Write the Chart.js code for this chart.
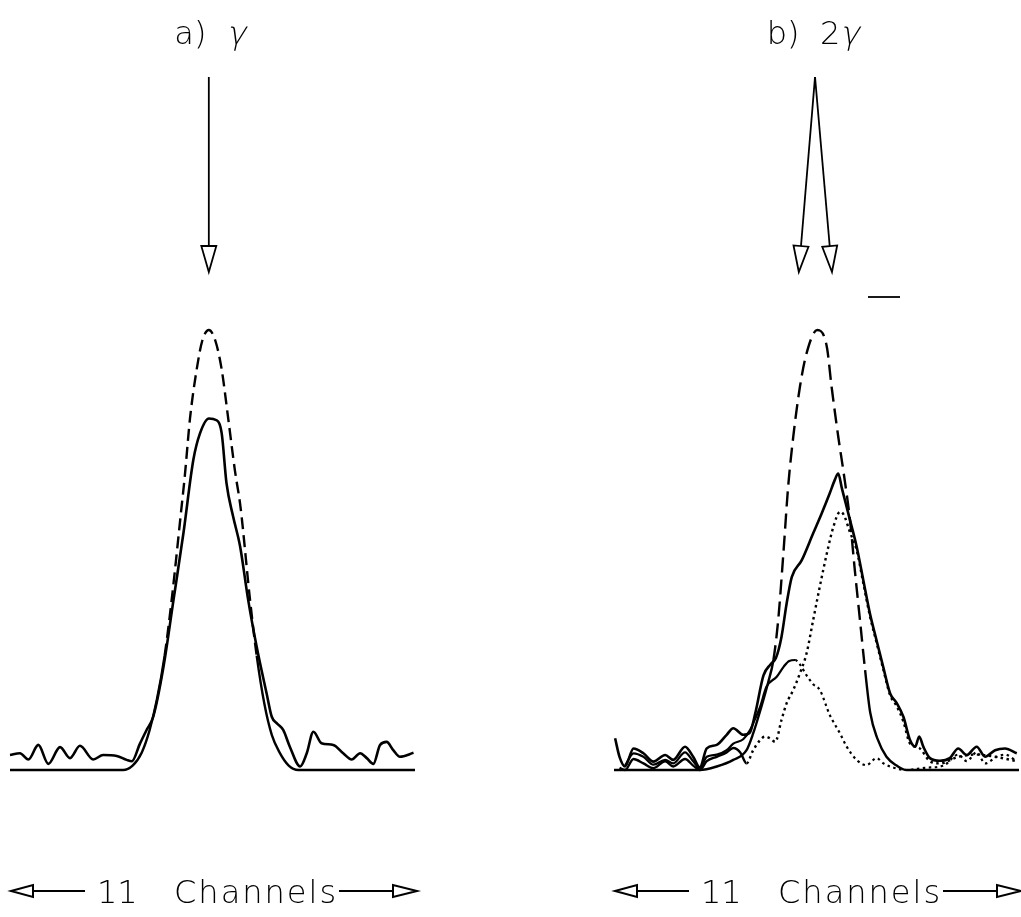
<!DOCTYPE html>
<html>
<head>
<meta charset="utf-8">
<script src="https://cdn.jsdelivr.net/npm/chart.js@4/dist/chart.umd.min.js"></script>
<style>
  body { margin: 0; background: #fff; }
  .panel { position: absolute; top: 0; height: 917px; }
  #wrapA { left: 0; width: 510px; }
  #wrapB { left: 510px; width: 511px; }
</style>
</head>
<body>
<div class="panel" id="wrapA"><canvas id="chartA"></canvas></div>
<div class="panel" id="wrapB"><canvas id="chartB"></canvas></div>
<script>
// x in channels (the panel spans 11 channels), y in relative intensity

// panel a) gamma
const aFitX = [0, 3.07, 3.33, 3.58, 3.79, 3.99, 4.20, 4.39, 4.66, 4.75, 4.89, 5.07, 5.22, 5.40, 5.58, 5.75, 5.91, 6.11, 6.26, 6.52, 6.70, 6.91, 7.11, 7.32, 7.57, 7.83, 11];
const aFitY = [0, 0, 0.01, 0.04, 0.09, 0.16, 0.26, 0.386, 0.598, 0.67, 0.80, 0.91, 0.975, 1.0, 0.975, 0.91, 0.81, 0.68, 0.598, 0.386, 0.26, 0.15, 0.08, 0.04, 0.01, 0, 0];

const aDataX = [0, 0.27, 0.50, 0.77, 1.04, 1.36, 1.63, 1.90, 2.26, 2.53, 2.90, 3.17, 3.31, 3.53, 3.71, 3.89, 4.17, 4.44, 4.71, 4.98,
  5.16, 5.40, 5.61, 5.75, 5.88, 6.06, 6.25, 6.47, 6.70, 6.97, 7.11, 7.25, 7.42, 7.60, 7.88, 8.06, 8.24, 8.46, 8.78, 9.05,
  9.28, 9.51, 9.69, 9.87, 10.05, 10.23, 10.41, 10.59, 10.96];
const aDataY = [0.034, 0.038, 0.024, 0.057, 0.014, 0.052, 0.027, 0.055, 0.024, 0.034, 0.032, 0.023, 0.020, 0.06, 0.091, 0.121, 0.235, 0.386, 0.538, 0.705,
  0.765, 0.799, 0.795, 0.765, 0.652, 0.576, 0.508, 0.386, 0.280, 0.174, 0.121, 0.106, 0.091, 0.053, 0.008, 0.038, 0.087, 0.061, 0.057, 0.038,
  0.024, 0.038, 0.027, 0.014, 0.057, 0.064, 0.045, 0.030, 0.039];

// panel b) 2 gamma
const bFitX = [0, 2.33, 2.79, 3.24, 3.60, 3.78, 3.99, 4.19, 4.33, 4.46, 4.60, 4.73, 4.87, 5.05, 5.23, 5.52, 5.78, 5.91, 6.09, 6.24,
  6.41, 6.54, 6.68, 6.82, 6.96, 7.16, 7.40, 7.68, 7.95, 11];
const bFitY = [0, 0, 0.008, 0.023, 0.045, 0.083, 0.14, 0.2, 0.25, 0.341, 0.492, 0.644, 0.758, 0.871, 0.947, 1.0, 0.962, 0.871, 0.758, 0.674,
  0.568, 0.455, 0.341, 0.227, 0.13, 0.07, 0.03, 0.01, 0, 0];

const bDataX = [0.03, 0.15, 0.30, 0.53, 0.80, 1.07, 1.39, 1.61, 1.93, 2.15, 2.33, 2.52, 2.79, 3.06, 3.24, 3.51, 3.69, 3.84, 4.06, 4.25,
  4.40, 4.55, 4.69, 4.83, 5.10, 5.41, 5.64, 5.86, 6.00, 6.09, 6.19, 6.27, 6.41, 6.59, 6.77, 6.95, 7.13, 7.31, 7.50, 7.68,
  7.86, 8.04, 8.18, 8.29, 8.40, 8.58, 8.85, 9.12, 9.35, 9.58, 9.85, 10.08, 10.35, 10.62, 10.94];
const bDataY = [0.072, 0.03, 0.008, 0.049, 0.038, 0.019, 0.034, 0.023, 0.053, 0.03, 0.006, 0.049, 0.057, 0.080, 0.095, 0.080, 0.085, 0.13, 0.215, 0.24,
  0.255, 0.303, 0.379, 0.439, 0.477, 0.538, 0.583, 0.629, 0.66, 0.674, 0.64, 0.614, 0.568, 0.508, 0.432, 0.356, 0.295, 0.235, 0.174, 0.152,
  0.121, 0.068, 0.053, 0.076, 0.053, 0.027, 0.021, 0.027, 0.049, 0.034, 0.053, 0.030, 0.045, 0.049, 0.038];

const bHighX = [0.15, 0.30, 0.53, 0.80, 1.07, 1.39, 1.61, 1.93, 2.15, 2.33, 2.52, 2.79, 3.06, 3.24, 3.43, 3.60, 3.78, 3.97, 4.10, 4.24,
  4.38, 4.55, 4.69, 4.87, 5.05, 5.23, 5.41, 5.59, 5.78, 5.96, 6.14, 6.24, 6.41, 6.59, 6.77, 6.95, 7.13, 7.31, 7.50, 7.68,
  7.86, 8.04, 8.29, 8.58, 8.85, 9.35, 9.85, 10.35, 10.95];
const bHighY = [0.005, 0.0, 0.025, 0.015, 0.004, 0.02, 0.008, 0.025, 0.01, 0.0, 0.02, 0.03, 0.04, 0.05, 0.04, 0.015, 0.045, 0.068, 0.076, 0.072,
  0.064, 0.114, 0.152, 0.182, 0.220, 0.265, 0.341, 0.417, 0.492, 0.553, 0.587, 0.58, 0.540, 0.50, 0.425, 0.35, 0.29, 0.23, 0.17, 0.145,
  0.11, 0.06, 0.05, 0.02, 0.015, 0.03, 0.035, 0.03, 0.02];

const bLowX = [0.30, 0.53, 0.80, 1.07, 1.39, 1.61, 1.93, 2.15, 2.33, 2.52, 2.79, 3.06, 3.24, 3.51, 3.69, 3.78, 3.97, 4.14, 4.42, 4.61,
  4.76, 4.92, 5.05, 5.23, 5.41, 5.59, 5.86, 6.14, 6.32, 6.59, 6.86, 7.13, 7.32, 7.50, 7.95, 8.44, 8.95, 9.35, 9.58, 9.85,
  10.08, 10.39, 10.62, 10.94];
const bLowY = [0.01, 0.038, 0.03, 0.012, 0.023, 0.015, 0.04, 0.02, 0.004, 0.03, 0.035, 0.045, 0.06, 0.07, 0.09, 0.106, 0.144, 0.189, 0.212, 0.235,
  0.248, 0.25, 0.24, 0.215, 0.195, 0.182, 0.125, 0.083, 0.053, 0.023, 0.011, 0.027, 0.015, 0.008, 0.0, 0.005, 0.01, 0.035, 0.02, 0.04,
  0.015, 0.03, 0.035, 0.02];

// arrow tips (channels) and apex
const arrowsA = [5.40];
const apexA = 5.40;
const arrowsB = [5.02, 5.92];
const apexB = 5.46;

const spanCount = '11';
const spanWord = 'Channels';

const pts = (xs, ys) => xs.map((x, i) => ({ x: x, y: ys[i] }));

// dashed above the tails, solid near the baseline
const fitDash = (dash) => (ctx) =>
  (ctx.p0.parsed.y > 0.2 && ctx.p1.parsed.y > 0.2) ? dash : [];
// dotted from a given channel on
const dotFrom = (x0) => (ctx) => (ctx.p0.parsed.x >= x0) ? [2.5, 3.5] : [];

const FONT = "'DejaVu Sans'";

function drawTitle(ctx, label, prefix, cx, y) {
  ctx.font = '200 32px ' + FONT;
  const gap = ctx.measureText('  ').width;
  const w1 = ctx.measureText(label).width;
  const w2 = ctx.measureText(prefix + 'γ').width;
  let x = cx - (w1 + gap + w2) / 2;
  ctx.fillText(label, x, y);
  x += w1 + gap;
  if (prefix) {
    ctx.fillText(prefix, x, y);
    x += ctx.measureText(prefix).width;
  }
  // slanted gamma
  ctx.save();
  ctx.translate(x, y);
  ctx.transform(1, 0, -0.22, 1, 0, 0);
  ctx.fillText('γ', 0, 0);
  ctx.restore();
}

function openHead(ctx, tipX, tipY, dx, dy, len, half) {
  // open triangle, tip at (tipX, tipY), pointing along (dx, dy)
  const n = Math.hypot(dx, dy);
  const ux = dx / n, uy = dy / n;
  const bx = tipX - ux * len, by = tipY - uy * len;
  ctx.beginPath();
  ctx.moveTo(tipX, tipY);
  ctx.lineTo(bx - uy * half, by + ux * half);
  ctx.lineTo(bx + uy * half, by - ux * half);
  ctx.closePath();
  ctx.fillStyle = '#fff';
  ctx.fill();
  ctx.stroke();
  ctx.fillStyle = '#000';
}

const decor = {
  id: 'decor',
  afterDraw(chart, args, opts) {
    const ctx = chart.ctx;
    const xs = chart.scales.x;
    const area = chart.chartArea;
    ctx.save();
    ctx.strokeStyle = '#000';
    ctx.fillStyle = '#000';
    ctx.lineWidth = 1.8;
    ctx.textBaseline = 'alphabetic';

    drawTitle(ctx, opts.label, opts.prefix, opts.titleX, 44);

    // arrows from a common apex to the peaks
    const ax = xs.getPixelForValue(opts.apex);
    const topY = 77, tipY = 272, headLen = 26;
    opts.tips.forEach(t => {
      const tx = xs.getPixelForValue(t);
      const k = headLen / (tipY - topY);
      ctx.beginPath();
      ctx.moveTo(ax, topY);
      ctx.lineTo(tx + (ax - tx) * k, tipY - headLen);
      ctx.stroke();
      openHead(ctx, tx, tipY, tx - ax, tipY - topY, headLen, 7.5);
    });

    // stray mark
    if (opts.mark) {
      ctx.beginPath();
      ctx.moveTo(opts.mark[0], opts.mark[2]);
      ctx.lineTo(opts.mark[1], opts.mark[2]);
      ctx.stroke();
    }

    // span label at the bottom
    const L = area.left + 1, R = area.right + 2;
    const midY = 891;
    ctx.lineWidth = 2;
    ctx.font = '200 32px ' + FONT;
    ctx.textAlign = 'left';
    ctx.fillText(spanCount, L + 86, 903);
    ctx.letterSpacing = '2px';
    ctx.fillText(spanWord, L + 163, 903);
    ctx.letterSpacing = '0px';
    ctx.beginPath();
    ctx.moveTo(L + 22, midY);
    ctx.lineTo(L + 74, midY);
    ctx.moveTo(L + 328, midY);
    ctx.lineTo(R - 24, midY);
    ctx.stroke();
    openHead(ctx, L, midY, -1, 0, 22, 6);
    openHead(ctx, R, midY, 1, 0, 24, 6);
    ctx.restore();
  }
};

function makeChart(id, datasets, decorOpts, padLeft, padRight) {
  return new Chart(document.getElementById(id), {
    type: 'line',
    data: { datasets: datasets },
    options: {
      responsive: true,
      maintainAspectRatio: false,
      animation: false,
      events: [],
      layout: { padding: { left: padLeft, right: padRight, top: 308, bottom: 125 } },
      elements: { point: { radius: 0 }, line: { cubicInterpolationMode: 'monotone' } },
      scales: {
        x: { type: 'linear', min: 0, max: 11, display: false },
        y: { min: -0.05, max: 1.05, display: false }
      },
      plugins: {
        legend: { display: false },
        tooltip: { enabled: false },
        decor: decorOpts
      }
    },
    plugins: [decor]
  });
}

const chartA = makeChart('chartA', [
  { data: pts(aFitX, aFitY), borderColor: '#000', borderWidth: 2.4, fill: false, clip: false,
    segment: { borderDash: fitDash([12, 6]) } },
  { data: pts(aDataX, aDataY), borderColor: '#000', borderWidth: 2.6, fill: false, clip: false }
], { label: 'a)', prefix: '', titleX: 210, apex: apexA, tips: arrowsA }, 10, 95);

const chartB = makeChart('chartB', [
  { data: pts(bFitX, bFitY), borderColor: '#000', borderWidth: 2.4, fill: false, clip: false,
    segment: { borderDash: fitDash([15, 7]) } },
  { data: pts(bDataX, bDataY), borderColor: '#000', borderWidth: 2.6, fill: false, clip: false },
  { data: pts(bHighX, bHighY), borderColor: '#000', borderWidth: 2.4, fill: false, clip: false,
    segment: { borderDash: dotFrom(3.6) } },
  { data: pts(bLowX, bLowY), borderColor: '#000', borderWidth: 2.2, fill: false, clip: false,
    segment: { borderDash: dotFrom(4.92) } }
], { label: 'b)', prefix: '2', titleX: 303, apex: apexB, tips: arrowsB, mark: [358, 390, 297] }, 104, 2);
</script>
</body>
</html>
